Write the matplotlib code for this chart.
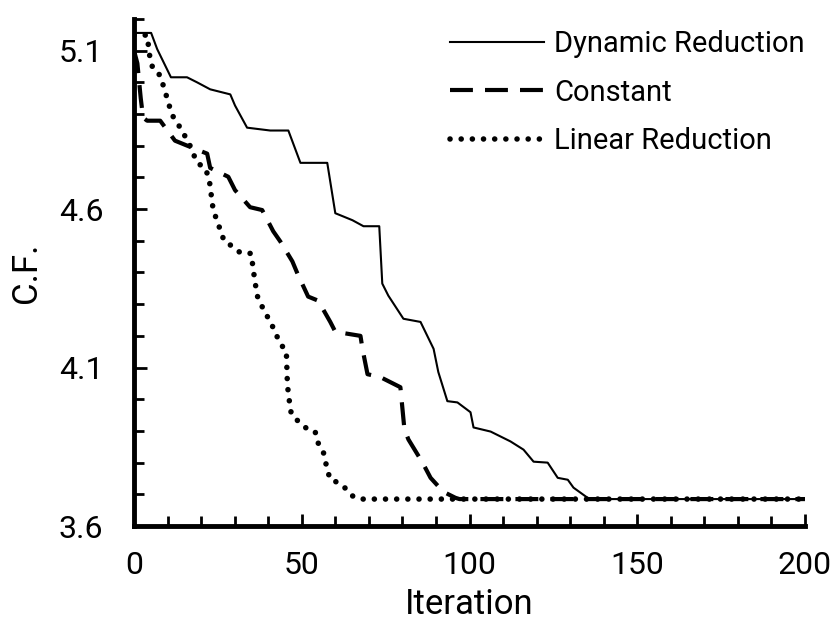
import numpy as np
import matplotlib
matplotlib.use("Agg")
import matplotlib.pyplot as plt
from matplotlib.ticker import MultipleLocator, FixedLocator

plt.rcParams['font.family'] = ['Roboto', 'DejaVu Sans']

# series
dyn_x = [0, 5.1, 6.9, 11.0, 15.8, 18.8, 22.7, 28.7, 30.1, 33.7, 40.6, 46.0, 49.6, 57.6,
         60.0, 62.1, 65.1, 68.4, 73.1, 74.0, 75.8, 80.3, 85.4, 89.3, 90.7, 93.4, 96.4,
         100.3, 101.2, 106.3, 112.2, 116.1, 119.1, 123.3, 126.3, 129.3, 131.0, 135.2, 137, 200]
dyn_y = [5.156, 5.156, 5.105, 5.016, 5.016, 5.0, 4.978, 4.962, 4.927, 4.857, 4.848, 4.848,
         4.746, 4.746, 4.587, 4.578, 4.565, 4.546, 4.546, 4.365, 4.327, 4.254, 4.244, 4.159,
         4.086, 3.994, 3.990, 3.959, 3.911, 3.898, 3.867, 3.841, 3.803, 3.8, 3.752, 3.746,
         3.721, 3.689, 3.685, 3.685]

const_x = [0, 1.0, 2.0, 2.7, 3.9, 7.8, 12.2, 15.2, 21.8, 22.7, 28.1, 30.1, 34.6, 38.2, 41.5,
           43.6, 47.2, 48.7, 51.9, 54.9, 58.5, 60.0, 67.5, 68.1, 69.6, 73.4, 79.4, 80.6,
           81.8, 86.0, 88.4, 92.2, 95.8, 97, 200]
const_y = [5.10, 5.06, 4.95, 4.889, 4.879, 4.879, 4.816, 4.803, 4.775, 4.730, 4.702, 4.660,
           4.606, 4.597, 4.530, 4.498, 4.435, 4.397, 4.324, 4.311, 4.244, 4.213, 4.2, 4.159,
           4.079, 4.070, 4.038, 3.905, 3.873, 3.8, 3.752, 3.708, 3.689, 3.685, 3.685]

lin_x = [0, 3.9, 4.8, 5.7, 7.8, 9.6, 11.3, 14.3, 16.7, 18.8, 21.2, 22.4, 23.6, 24.8, 26.9,
         29.3, 31.6, 34.9, 35.8, 36.7, 38.2, 41.2, 43.6, 45.4, 45.7, 46.0, 46.9, 49.0, 51.0,
         54.0, 54.6, 56.4, 57.6, 58.5, 60.9, 63.6, 65.4, 68.1, 200]
lin_y = [5.149, 5.149, 5.073, 5.041, 5.022, 4.959, 4.898, 4.848, 4.8, 4.746, 4.730, 4.695,
         4.597, 4.562, 4.498, 4.483, 4.463, 4.460, 4.390, 4.327, 4.292, 4.232, 4.175, 4.152,
         4.054, 4.016, 3.952, 3.930, 3.911, 3.898, 3.867, 3.835, 3.778, 3.746, 3.737, 3.714,
         3.692, 3.685, 3.685]

labels = ["Dynamic Reduction", "Constant", "Linear Reduction"]
y_ticks = [3.6, 4.1, 4.6, 5.1]
x_ticks = [0, 50, 100, 150, 200]

fig = plt.figure(figsize=(8.34, 6.2), dpi=100)
ax = fig.add_axes([0.1607, 0.1516, 0.8045, 0.8178])

ax.plot(dyn_x, dyn_y, color='black', lw=1.5, label=labels[0])
ax.plot(const_x, const_y, color='black', lw=3, linestyle=(0, (5.5, 2.9)), label=labels[1])
ax.plot(lin_x, lin_y, color='black', lw=4, linestyle=(0, (0.01, 2.0)),
        dash_capstyle='round', label=labels[2])

ax.set_xlim(0, 200)
ax.set_ylim(3.6, 5.2)
ax.xaxis.set_major_locator(FixedLocator(x_ticks))
ax.xaxis.set_minor_locator(MultipleLocator(10))
ax.yaxis.set_major_locator(FixedLocator(y_ticks))
ax.yaxis.set_minor_locator(MultipleLocator(0.1))
ax.set_yticklabels([f"{v:.1f}" for v in y_ticks])

for s in ['top', 'right']:
    ax.spines[s].set_visible(False)
for s in ['left', 'bottom']:
    ax.spines[s].set_linewidth(3.5)

ax.tick_params(which='major', direction='in', length=9, width=2, labelsize=23)
ax.tick_params(axis='x', which='major', pad=18)
ax.tick_params(axis='y', which='major', pad=22)
ax.tick_params(which='minor', direction='in', length=7, width=2)

ax.set_xlabel("Iteration", fontsize=25, va='top')
ax.xaxis.set_label_coords(0.5, -0.123)
ax.set_ylabel("C.F.", fontsize=25)
ax.yaxis.set_label_coords(-0.136, 0.5)

ax.legend(loc='upper right', bbox_to_anchor=(1.0, 0.978), frameon=False, fontsize=21,
          handlelength=3.25, handletextpad=0.34, labelspacing=0.7, borderpad=0,
          borderaxespad=0)

fig.savefig("out.png", dpi=100)
